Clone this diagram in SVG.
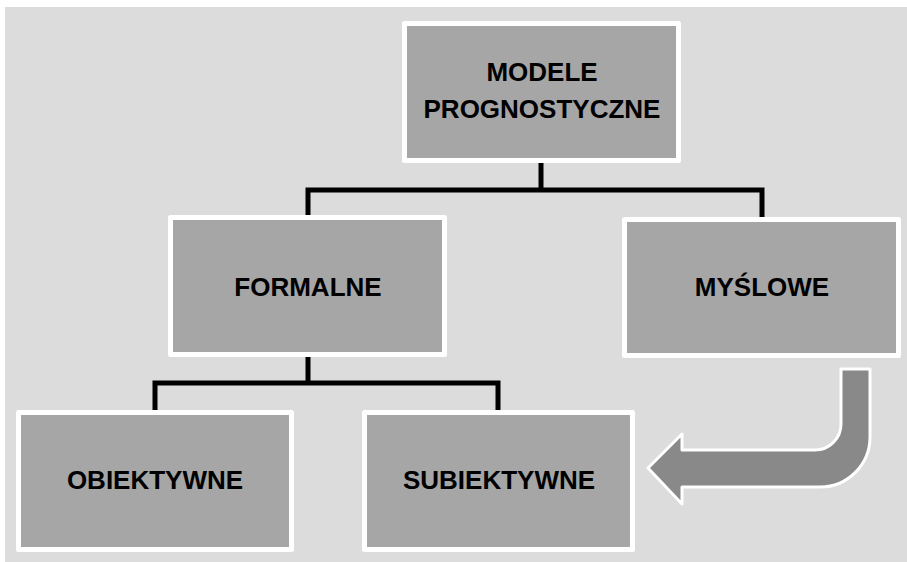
<svg xmlns="http://www.w3.org/2000/svg" width="907" height="562" viewBox="0 0 907 562">
<style>
.box{fill:#a6a6a6;stroke:#ffffff;stroke-width:5;stroke-linejoin:round}
.lbl{font-family:"Liberation Sans",Arial,sans-serif;font-weight:bold;font-size:26px;fill:#000;text-anchor:middle}
.con{fill:none;stroke:#000;stroke-width:5;stroke-linejoin:miter}
</style>
<rect x="0" y="0" width="907" height="562" fill="#ffffff"/>
<rect x="5" y="7" width="902" height="555" fill="#dcdcdc"/>
<g id="connectors">
<path class="con" d="M541,163 V190 M308,215 V190 H762 V217"/>
<path class="con" d="M308,357 V383 M155,410 V383 H498 V410"/>
</g>
<g id="modele">
<rect class="box" x="404.5" y="23.5" width="274" height="137"/>
<text class="lbl" x="542" y="81">MODELE</text>
<text class="lbl" x="542" y="118">PROGNOSTYCZNE</text>
</g>
<g id="formalne">
<rect class="box" x="170.5" y="217.5" width="274" height="137"/>
<text class="lbl" x="308" y="296">FORMALNE</text>
</g>
<g id="myslowe">
<rect class="box" x="624.5" y="219.5" width="274" height="136"/>
<text class="lbl" x="762" y="296">MYŚLOWE</text>
</g>
<g id="obiektywne">
<rect class="box" x="18.5" y="412.5" width="273" height="137"/>
<text class="lbl" x="155" y="489">OBIEKTYWNE</text>
</g>
<g id="subiektywne">
<rect class="box" x="364.5" y="412.5" width="268" height="137"/>
<text class="lbl" x="499" y="489">SUBIEKTYWNE</text>
</g>
<g id="arrow">
<path d="M841,369 H870 V437 A50,50 0 0 1 820,487 H682 V504 L648,468 L682,434 V450 H815 A26,26 0 0 0 841,424 Z" fill="#898989" stroke="#ffffff" stroke-width="3" stroke-linejoin="round"/>
</g>
</svg>
